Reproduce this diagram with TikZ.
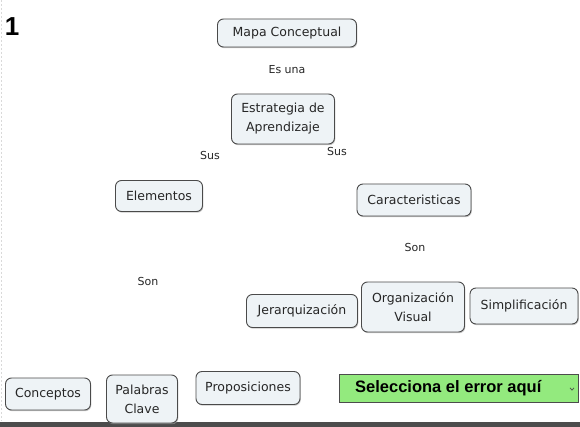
\documentclass[tikz,border=0pt]{standalone}
\usepackage{fontspec}
\setmainfont{DejaVu Sans}
\newfontfamily\selfont{Liberation Sans}
\usetikzlibrary{shadows}
\definecolor{boxfill}{HTML}{EEF3F6}
\definecolor{boxline}{HTML}{4A4A4A}
\definecolor{selgreen}{HTML}{93EA7E}
\tikzset{
  concept/.style={draw=boxline, line width=0.9pt, fill=boxfill, rounded corners=6pt,
    font=\fontsize{12.5}{19}\selectfont, text=black!85, align=center, inner sep=0pt,
    drop shadow={shadow xshift=0.8pt, shadow yshift=-1.2pt, fill=black!35, opacity=0.6}},
  linklabel/.style={font=\fontsize{11}{12}\selectfont, text=black!85, inner sep=1pt}
}
\begin{document}
\begin{tikzpicture}[x=1pt,y=-1pt]
\useasboundingbox (0,0) rectangle (580,427);
\fill[white] (0,0) rectangle (580,427);
\draw[black!15, dash pattern=on 2pt off 2pt] (1,0) -- (1,421);
\fill[black!70] (0,422) rectangle (580,427);

\node[font=\selfont\bfseries\fontsize{26}{26}\selectfont, inner sep=0pt] (num) at (12,27) {1};

\node[concept, minimum width=139pt, minimum height=28pt] (mapa) at (287,33) {Mapa Conceptual};
\node[linklabel] (esuna) at (287,70) {Es una};
\node[concept, minimum width=103pt, minimum height=50pt] (estr) at (283,119) {Estrategia de\\Aprendizaje};
\node[linklabel] (sus1) at (210,155) {Sus};
\node[linklabel] (sus2) at (337,151) {Sus};
\node[concept, minimum width=87pt, minimum height=31pt] (elem) at (159,196) {Elementos};
\node[concept, minimum width=114pt, minimum height=32pt] (carac) at (414,200) {Caracteristicas};
\node[linklabel] (son2) at (415,247) {Son};
\node[linklabel] (son1) at (148,281) {Son};
\node[concept, minimum width=111pt, minimum height=33pt] (jer) at (302,311) {Jerarquización};
\node[concept, minimum width=103pt, minimum height=50pt] (org) at (413,307) {Organización\\Visual};
\node[concept, minimum width=108pt, minimum height=36pt] (simp) at (524,306) {Simplificación};
\node[concept, minimum width=85pt, minimum height=32pt] (conc) at (48,394) {Conceptos};
\node[concept, minimum width=71pt, minimum height=48pt] (pal) at (142,399) {Palabras\\Clave};
\node[concept, minimum width=104pt, minimum height=33pt] (prop) at (248,388) {Proposiciones};

\node[draw=black!70, line width=1pt, fill=selgreen, minimum width=239pt, minimum height=28pt,
  inner sep=0pt] (sel) at (458.5,388) {};
\node[font=\selfont\bfseries\fontsize{16.5}{18}\selectfont, anchor=west, inner sep=0pt] (seltext) at (355,388) {Selecciona el error aquí};
\coordinate (chev) at (572,389);
\draw[black!70, line width=0.7pt] ([xshift=-2pt,yshift=1.2pt]chev) -- ([yshift=-1.2pt]chev) -- ([xshift=2pt,yshift=1.2pt]chev);
\end{tikzpicture}
\end{document}
